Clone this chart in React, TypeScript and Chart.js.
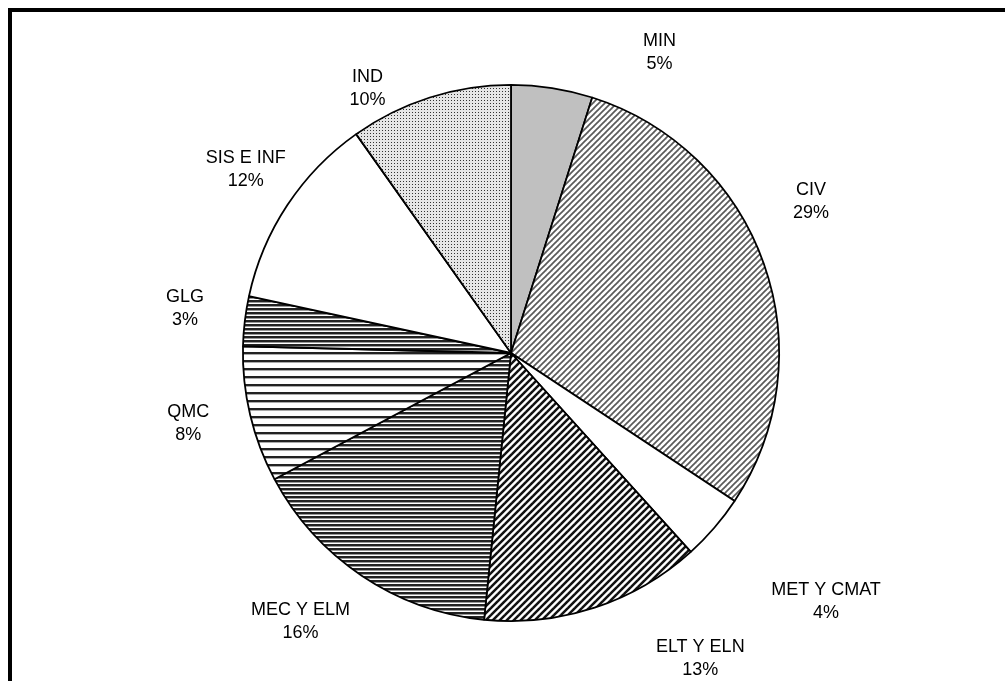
import React, { useEffect, useRef } from "react";
import { Chart, registerables } from "chart.js";

Chart.register(...registerables);

// ---- data ----
const categories = ["MIN", "CIV", "MET Y CMAT", "ELT Y ELN", "MEC Y ELM", "QMC", "GLG", "SIS E INF", "IND"];
const values = [4.9, 29.4, 4.0, 13.3, 15.6, 8.2, 3.0, 11.8, 9.8];
const fillKinds = ["solidGray", "diagLight", "white", "diagDark", "hDense", "hSparse", "hDense2", "white", "dots"];
// label block centres, relative to pie centre, in units of the pie radius
const labelOffsets: [number, number][] = [
  [0.554, -1.121],
  [1.119, -0.565],
  [1.175, 0.926],
  [0.706, 1.139],
  [-0.785, 1.0],
  [-1.204, 0.264],
  [-1.216, -0.167],
  [-0.989, -0.684],
  [-0.535, -0.985],
];

function makePattern(kind: string): CanvasPattern | string {
  if (kind === "solidGray") return "#c0c0c0";
  if (kind === "white") return "#ffffff";
  const c = document.createElement("canvas");
  const ctx = c.getContext("2d")!;
  if (kind === "diagLight" || kind === "diagDark") {
    const s = kind === "diagLight" ? 6 : 7;
    c.width = s;
    c.height = s;
    ctx.fillStyle = "#fff";
    ctx.fillRect(0, 0, s, s);
    ctx.strokeStyle = kind === "diagLight" ? "#5a5a5a" : "#111";
    ctx.lineWidth = kind === "diagLight" ? 1.7 : 2.5;
    for (let i = -1; i <= 1; i++) {
      ctx.beginPath();
      ctx.moveTo(i * s - 1, s + 1);
      ctx.lineTo(i * s + s + 1, -1);
      ctx.stroke();
    }
  } else if (kind === "hDense" || kind === "hDense2") {
    c.width = 4;
    c.height = 4;
    ctx.fillStyle = "#fff";
    ctx.fillRect(0, 0, 4, 4);
    ctx.fillStyle = "#222";
    ctx.fillRect(0, 0, 4, 2);
    ctx.fillStyle = "#999";
    ctx.fillRect(0, 2, 4, 1);
  } else if (kind === "hSparse") {
    c.width = 4;
    c.height = 8;
    ctx.fillStyle = "#fff";
    ctx.fillRect(0, 0, 4, 8);
    ctx.fillStyle = "#222";
    ctx.fillRect(0, 0, 4, 2);
    ctx.fillStyle = "#aaa";
    ctx.fillRect(0, 2, 4, 1);
  } else if (kind === "dots") {
    c.width = 3;
    c.height = 3;
    ctx.fillStyle = "#e6e6e6";
    ctx.fillRect(0, 0, 3, 3);
    ctx.fillStyle = "#333";
    ctx.fillRect(1, 1, 1, 1);
  }
  return ctx.createPattern(c, "repeat")!;
}

const labelPlugin = {
  id: "sliceLabels",
  afterDatasetsDraw(chart: any) {
    const ctx = chart.ctx;
    const meta = chart.getDatasetMeta(0);
    const data = chart.data.datasets[0].data as number[];
    const total = data.reduce((a, b) => a + b, 0);
    ctx.save();
    ctx.fillStyle = "#000";
    ctx.font = '18px "Liberation Sans", Arial, sans-serif';
    ctx.textAlign = "center";
    ctx.textBaseline = "middle";
    meta.data.forEach((arc: any, i: number) => {
      const r = arc.outerRadius;
      const [fx, fy] = labelOffsets[i];
      const x = arc.x + fx * r;
      const y = arc.y + fy * r;
      ctx.fillText(String(chart.data.labels[i]), x, y - 11.5);
      ctx.fillText(Math.round((data[i] / total) * 100) + "%", x, y + 11.5);
    });
    ctx.restore();
  },
};

export default function App() {
  const ref = useRef<HTMLCanvasElement>(null);
  useEffect(() => {
    if (!ref.current) return;
    const chart = new Chart(ref.current, {
      type: "pie",
      data: {
        labels: categories,
        datasets: [
          {
            data: values,
            backgroundColor: fillKinds.map(makePattern) as any,
            borderColor: "#000",
            borderWidth: 1.8,
            hoverOffset: 0,
          },
        ],
      },
      options: {
        responsive: false,
        animation: false,
        events: [],
        layout: { padding: { left: 242, right: 225, top: 84, bottom: 59 } },
        plugins: { legend: { display: false }, tooltip: { enabled: false } },
      },
      plugins: [labelPlugin],
    });
    return () => chart.destroy();
  }, []);
  return (
    <div style={{ position: "absolute", left: 0, top: 0, width: 1005, height: 681, background: "#fff", overflow: "hidden" }}>
      <canvas ref={ref} width={1005} height={681} style={{ position: "absolute", left: 0, top: 0 }} />
      <div
        style={{
          position: "absolute",
          left: 8,
          top: 8,
          width: 997,
          height: 673,
          borderTop: "4px solid #000",
          borderLeft: "4px solid #000",
          boxSizing: "border-box",
          pointerEvents: "none",
        }}
      />
    </div>
  );
}
